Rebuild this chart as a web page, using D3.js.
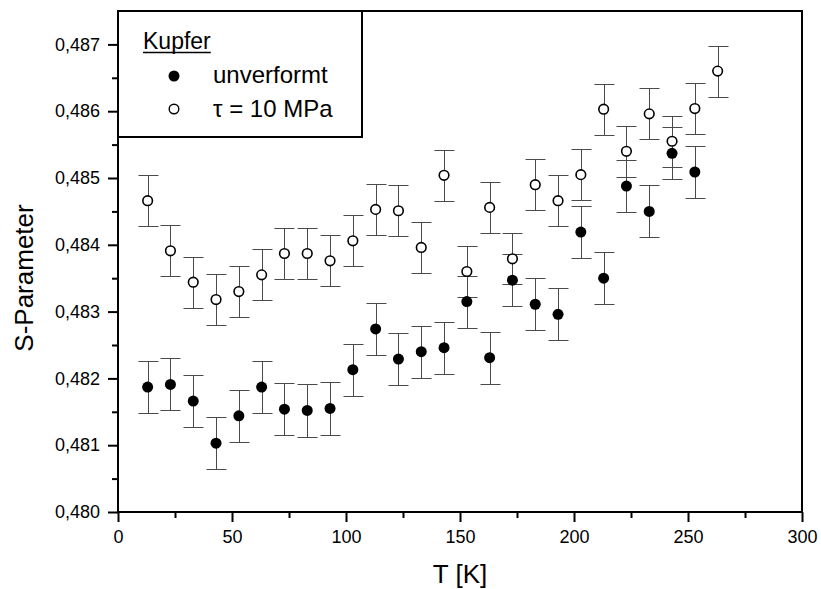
<!DOCTYPE html>
<html>
<head>
<meta charset="utf-8">
<script src="https://cdn.jsdelivr.net/npm/d3@7"></script>
<style>
  body { margin: 0; background: #fff; }
  text { font-family: "Liberation Sans", Arial, sans-serif; fill: #000; }
</style>
</head>
<body>
<div class="canvas"></div>
<script>
// measured values (temperature in K, S-parameter)
const tClosed = [13, 23, 33, 43, 53, 63, 73, 83, 93, 103, 113, 123, 133, 143, 153, 163, 173, 183, 193, 203, 213, 223, 233, 243, 253];
const sClosed = [0.48187, 0.48191, 0.48166, 0.48103, 0.48144, 0.48187, 0.48154, 0.48152, 0.48155, 0.48213, 0.48274, 0.48229, 0.48240,
  0.48246, 0.48315, 0.48231, 0.48347, 0.48311, 0.48296, 0.48419, 0.48350, 0.48488, 0.48450, 0.48537, 0.48509];
const tOpen = [13, 23, 33, 43, 53, 63, 73, 83, 93, 103, 113, 123, 133, 143, 153, 163, 173, 183, 193, 203, 213, 223, 233, 243, 253, 263];
const sOpen = [0.48466, 0.48391, 0.48344, 0.48318, 0.48330, 0.48355, 0.48387, 0.48387, 0.48376, 0.48406, 0.48453, 0.48451, 0.48396,
  0.48504, 0.48360, 0.48456, 0.48379, 0.48490, 0.48466, 0.48505, 0.48603, 0.48540, 0.48596, 0.48555, 0.48604, 0.48660];
// error bars look the same size everywhere
const errClosed = 0.00039;
const errOpen = 0.00038;

const xMajor = [0, 50, 100, 150, 200, 250, 300];
const xMinor = [25, 75, 125, 175, 225, 275];
const yMajor = [0.480, 0.481, 0.482, 0.483, 0.484, 0.485, 0.486, 0.487];
const yMinor = [0.4805, 0.4815, 0.4825, 0.4835, 0.4845, 0.4855, 0.4865];

const legendTitle = "Kupfer";
const legendNames = ["unverformt", "\u03c4 = 10 MPa"];

const svgWidth = 821, svgHeight = 589;
const margin = {top: 11, right: 19, bottom: 77, left: 118};
const graphWidth = svgWidth - margin.left - margin.right;
const graphHeight = svgHeight - margin.top - margin.bottom;

const svg = d3.select('.canvas').append('svg')
  .attr('width', svgWidth)
  .attr('height', svgHeight);

const graph = svg.append('g')
  .attr('transform', `translate(${margin.left},${margin.top})`);

const x = d3.scaleLinear().domain([0, 300]).range([0, graphWidth]);
const y = d3.scaleLinear().domain([0.480, 0.4875]).range([graphHeight, 0]);

// german decimal comma
const de = d3.formatLocale({decimal: ",", thousands: ".", grouping: [3], currency: ["", " €"]});
const fmtY = de.format(".3f");

// axes: major ticks with labels, minor ticks without
const xAxisG = graph.append('g').attr('transform', `translate(0,${graphHeight})`);
xAxisG.call(d3.axisBottom(x).tickValues(xMajor).tickSize(10).tickPadding(8).tickFormat(d3.format("d")));
xAxisG.append('g').call(d3.axisBottom(x).tickValues(xMinor).tickSize(6).tickFormat(""));

const yAxisG = graph.append('g');
yAxisG.call(d3.axisLeft(y).tickValues(yMajor).tickSize(10).tickPadding(8).tickFormat(fmtY));
yAxisG.append('g').call(d3.axisLeft(y).tickValues(yMinor).tickSize(6).tickFormat(""));

svg.selectAll('.domain').remove();
svg.selectAll('.tick line').attr('stroke', '#000').attr('stroke-width', 2);
svg.selectAll('.tick text').style('font-size', '18px').attr('fill', '#000');

// frame around the plot
graph.append('rect')
  .attr('x', 0).attr('y', 0)
  .attr('width', graphWidth).attr('height', graphHeight)
  .attr('fill', 'none').attr('stroke', '#000').attr('stroke-width', 2);

// error bars
function drawErrors(ts, ss, err) {
  const g = graph.append('g').attr('stroke', '#4a4a4a').attr('stroke-width', 1).attr('fill', 'none');
  ts.forEach((t, i) => {
    const cx = Math.round(x(t)) + 0.5;
    const y0 = Math.round(y(ss[i] - err)) + 0.5, y1 = Math.round(y(ss[i] + err)) + 0.5;
    g.append('line').attr('x1', cx).attr('x2', cx).attr('y1', y0).attr('y2', y1);
    g.append('line').attr('x1', cx - 10).attr('x2', cx + 10).attr('y1', y0).attr('y2', y0);
    g.append('line').attr('x1', cx - 10).attr('x2', cx + 10).attr('y1', y1).attr('y2', y1);
  });
}
drawErrors(tClosed, sClosed, errClosed);
drawErrors(tOpen, sOpen, errOpen);

graph.append('g').selectAll('circle')
  .data(tClosed.map((t, i) => [t, sClosed[i]]))
  .enter().append('circle')
    .attr('cx', d => x(d[0])).attr('cy', d => y(d[1]))
    .attr('r', 5.5).attr('fill', '#000');

graph.append('g').selectAll('circle')
  .data(tOpen.map((t, i) => [t, sOpen[i]]))
  .enter().append('circle')
    .attr('cx', d => x(d[0])).attr('cy', d => y(d[1]))
    .attr('r', 4.8).attr('fill', '#fff').attr('stroke', '#000').attr('stroke-width', 1.6);

// legend box in the top left corner
const leg = graph.append('g');
leg.append('rect')
  .attr('x', 0).attr('y', 0).attr('width', 244).attr('height', 126)
  .attr('fill', '#fff').attr('stroke', '#000').attr('stroke-width', 2);
const kt = leg.append('text').attr('x', 25).attr('y', 38).style('font-size', '23px').text(legendTitle);
const kw = kt.node().getComputedTextLength();
leg.append('line').attr('x1', 25).attr('x2', 25 + kw).attr('y1', 41.5).attr('y2', 41.5)
  .attr('stroke', '#000').attr('stroke-width', 1.5);
leg.append('circle').attr('cx', 56).attr('cy', 65).attr('r', 5.5).attr('fill', '#000');
leg.append('circle').attr('cx', 56).attr('cy', 98).attr('r', 4.8)
  .attr('fill', '#fff').attr('stroke', '#000').attr('stroke-width', 1.4);
legendNames.forEach((n, i) => {
  leg.append('text').attr('x', 95).attr('y', 72 + i * 34).style('font-size', '24px').text(n);
});

// axis titles
svg.append('text')
  .attr('text-anchor', 'middle')
  .attr('transform', `translate(${margin.left + graphWidth / 2},583)`)
  .style('font-size', '26px').text('T [K]');
svg.append('text')
  .attr('text-anchor', 'middle')
  .attr('transform', 'translate(33,278) rotate(-90)')
  .style('font-size', '26px').text('S-Parameter');
</script>
</body>
</html>
